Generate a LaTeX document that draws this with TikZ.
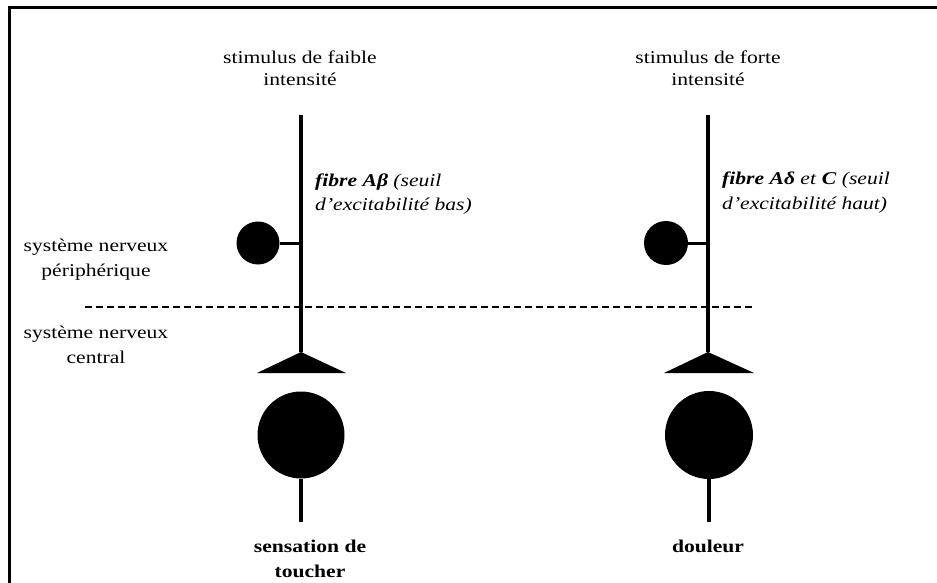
\documentclass[tikz,border=0pt]{standalone}
\usepackage{fontspec}
\setmainfont[FakeStretch=1.2]{Liberation Serif}
\begin{document}
\begin{tikzpicture}[x=1pt,y=-1pt,
  txt/.style={font=\fontsize{18}{22}\selectfont, inner sep=0pt, anchor=base},
  nerve/.style={line width=4pt},
  stub/.style={line width=3pt},
  soma/.style={circle, fill=black, draw=none, inner sep=0pt},
  synapse/.style={fill=black, draw=none},
  frame/.style={line width=3pt},
  border/.style={dashed, line width=1.1pt, dash pattern=on 7pt off 4pt}]
\useasboundingbox (0,0) rectangle (937,583);
% frame (top and left edges)
\coordinate (fTL) at (9,8);
\coordinate (fTR) at (937,8);
\coordinate (fBL) at (9,583);
\draw[frame] (fTR) -- (fTL) -- (fBL);

% ---------- left pathway ----------
\node[txt] (l1a) at (300,64) {stimulus de faible};
\node[txt] (l1b) at (300,86) {intensité};
\coordinate (Ltop) at (301,115);
\coordinate (Lapex) at (301,352);
\coordinate (Ljoin) at (301,243);
\node[soma, minimum size=43pt] (Ls) at (258,243) {};
\draw[nerve] (Ltop) -- (Lapex);
\draw[stub] (Ls.east) -- (Ljoin);
\fill[synapse] (Lapex) -- (257,373) -- (346,373) -- cycle;
\node[soma, minimum size=87pt] (Lc) at (301,435) {};
\coordinate (Lend) at (301,522);
\draw[nerve] (Lc.south) -- (Lend);
\node[txt, anchor=base west] (lf1) at (315,186) {\textbf{\textit{fibre Aβ}} \textit{(seuil}};
\node[txt, anchor=base west] (lf2) at (315,210) {\textit{d’excitabilité bas)}};
\node[txt] (lo1) at (310,552) {\textbf{sensation de}};
\node[txt] (lo2) at (310,577) {\textbf{toucher}};

% ---------- right pathway ----------
\node[txt] (r1a) at (708,64) {stimulus de forte};
\node[txt] (r1b) at (708,86) {intensité};
\coordinate (Rtop) at (708,115);
\coordinate (Rapex) at (708,352);
\coordinate (Rjoin) at (708,243);
\node[soma, minimum size=44pt] (Rs) at (666,243) {};
\draw[nerve] (Rtop) -- (Rapex);
\draw[stub] (Rs.east) -- (Rjoin);
\fill[synapse] (Rapex) -- (664,373) -- (754,373) -- cycle;
\node[soma, minimum size=88pt] (Rc) at (709,435) {};
\coordinate (Rend) at (709,522);
\draw[nerve] (Rc.south) -- (Rend);
\node[txt, anchor=base west] (rf1) at (722,184) {\textbf{\textit{fibre Aδ}} \textit{et} \textbf{\textit{C}} \textit{(seuil}};
\node[txt, anchor=base west] (rf2) at (722,209) {\textit{d’excitabilité haut)}};
\node[txt] (ro1) at (708,552) {\textbf{douleur}};

% ---------- boundary between systems ----------
\coordinate (dA) at (85,307);
\coordinate (dB) at (753,307);
\draw[border] (dA) -- (dB);
\node[txt] (p1) at (96,251) {système nerveux};
\node[txt] (p2) at (96,276) {périphérique};
\node[txt] (c1) at (96,338) {système nerveux};
\node[txt] (c2) at (96,363) {central};
\end{tikzpicture}
\end{document}
